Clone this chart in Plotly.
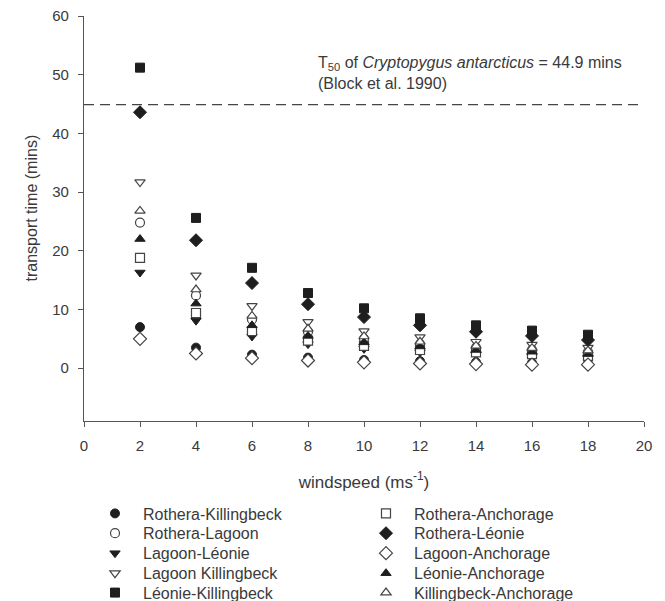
import plotly.graph_objects as go

windspeed = [2, 4, 6, 8, 10, 12, 14, 16, 18]

series_names = [
    "Rothera-Killingbeck", "Rothera-Lagoon", "Lagoon-Léonie", "Lagoon Killingbeck",
    "Léonie-Killingbeck", "Rothera-Anchorage", "Rothera-Léonie", "Lagoon-Anchorage",
    "Léonie-Anchorage", "Killingbeck-Anchorage",
]

rothera_killingbeck = [7.0, 3.5, 2.3, 1.8, 1.4, 1.2, 1.0, 0.9, 0.8]
rothera_lagoon = [24.8, 12.4, 8.3, 6.2, 5.0, 4.1, 3.5, 3.1, 2.8]
lagoon_leonie = [16.3, 8.1, 5.4, 4.1, 3.3, 2.7, 2.3, 2.0, 1.8]
lagoon_killingbeck = [31.7, 15.8, 10.6, 7.9, 6.3, 5.3, 4.5, 4.0, 3.5]
leonie_killingbeck = [51.2, 25.6, 17.1, 12.8, 10.2, 8.5, 7.3, 6.4, 5.7]
rothera_anchorage = [18.8, 9.4, 6.3, 4.7, 3.8, 3.1, 2.7, 2.4, 2.1]
rothera_leonie = [43.6, 21.8, 14.5, 10.9, 8.7, 7.3, 6.2, 5.5, 4.8]
lagoon_anchorage = [5.0, 2.5, 1.7, 1.3, 1.0, 0.8, 0.7, 0.6, 0.6]
leonie_anchorage = [22.0, 11.0, 7.3, 5.5, 4.4, 3.7, 3.1, 2.8, 2.4]
killingbeck_anchorage = [26.8, 13.4, 8.9, 6.7, 5.4, 4.5, 3.8, 3.4, 3.0]

series_values = [
    rothera_killingbeck, rothera_lagoon, lagoon_leonie, lagoon_killingbeck,
    leonie_killingbeck, rothera_anchorage, rothera_leonie, lagoon_anchorage,
    leonie_anchorage, killingbeck_anchorage,
]

symbols = ["circle", "circle", "triangle-down", "triangle-down", "square",
           "square", "diamond", "diamond", "triangle-up", "triangle-up"]
filled = [True, False, True, False, True, False, True, False, True, False]
sizes = [9, 9, 9, 9, 9, 9, 10, 10, 9, 9]

T50 = 44.9
x_ticks = [0, 2, 4, 6, 8, 10, 12, 14, 16, 18, 20]
y_ticks = [0, 10, 20, 30, 40, 50, 60]

DARK = "#1e1e1e"
GREY = "#555555"
TXT = "#3a3a3a"
FONT = "Liberation Sans, Arial, sans-serif"

W, H = 665, 601
# legend slot (column x in px, row y in px) for each series, column-major
leg_cols = [87, 358]
leg_rows = [513.5, 533.3, 553.3, 573.3, 592.7]

fig = go.Figure()
legend_layout = {}
for i, (name, vals, sym, fill, sz) in enumerate(zip(series_names, series_values, symbols, filled, sizes)):
    lid = "legend" if i == 0 else f"legend{i + 1}"
    fig.add_trace(go.Scatter(
        x=windspeed, y=vals, mode="markers", name=name, legend=lid, showlegend=True,
        marker=dict(symbol=sym, size=sz,
                    color=DARK if fill else "white",
                    line=dict(color=DARK if fill else "#444444", width=1 if fill else 1.2)),
    ))
    col, row = divmod(i, 5)
    legend_layout[lid] = dict(
        xref="container", yref="container", orientation="h",
        x=leg_cols[col] / W, y=1 - leg_rows[row] / H,
        xanchor="left", yanchor="middle", bgcolor="rgba(0,0,0,0)",
        itemwidth=46, font=dict(family=FONT, size=16, color=TXT),
    )

fig.add_shape(type="line", xref="x", yref="y", x0=0, x1=20, y0=T50, y1=T50,
              line=dict(color="#444444", width=1.2, dash="10px,6px"))

fig.add_annotation(
    x=8.3, y=50.3, xref="x", yref="y", xanchor="left", yanchor="middle", align="left",
    showarrow=False,
    text="T<sub>50</sub> of <i>Cryptopygus antarcticus</i> = 44.9 mins<br>(Block et al. 1990)",
    font=dict(family=FONT, size=16, color=TXT),
)

fig.add_annotation(
    x=-0.093, y=0.527, xref="paper", yref="paper", xanchor="center", yanchor="middle",
    textangle=-90, showarrow=False, text="transport time (mins)",
    font=dict(family=FONT, size=16, color=TXT),
)

fig.update_layout(
    width=W, height=H, showlegend=True,
    margin=dict(l=84, r=21, t=15.5, b=180.3),
    paper_bgcolor="white", plot_bgcolor="white",
    font=dict(family=FONT, size=15, color=TXT),
    xaxis=dict(range=[0, 20], tickvals=x_ticks, ticks="outside", ticklen=5,
               tickcolor=GREY, showline=True, linecolor=GREY, linewidth=1.3,
               showgrid=False, zeroline=False, automargin=False, ticklabelstandoff=6,
               title=dict(text="windspeed (ms<sup>-1</sup>)", standoff=22,
                          font=dict(family=FONT, size=17, color=TXT))),
    yaxis=dict(range=[-9, 60], tickvals=y_ticks, ticks="outside", ticklen=5,
               tickcolor=GREY, showline=True, linecolor=GREY, linewidth=1.3,
               showgrid=False, zeroline=False, ticklabelstandoff=6, automargin=False),
    **legend_layout,
)

fig.write_html("out.html", config={"displayModeBar": False},
               post_script="document.body.style.margin='0';")
